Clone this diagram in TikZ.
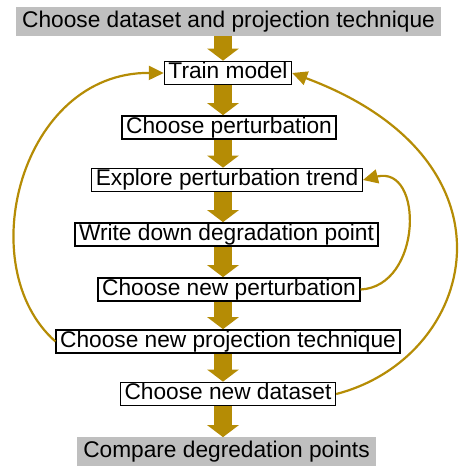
\documentclass[tikz,border=0pt]{standalone}
\usepackage{fontspec}
\setmainfont{Liberation Sans}
\usetikzlibrary{arrows.meta}
\definecolor{gold}{RGB}{181,140,5}
\definecolor{shade}{RGB}{191,191,191}

\begin{document}
\begin{tikzpicture}[x=1pt, y=-1pt,
    every node/.style={font=\fontsize{22.7}{27}\selectfont, text height=16.5pt, text depth=4.8pt},
    stage/.style={draw, line width=1.4pt, inner xsep=4pt, inner ysep=1pt},
    terminal/.style={fill=shade, inner xsep=6pt, inner ysep=3.5pt},
    advance/.style={draw=gold, line width=18pt, -{Triangle[length=12pt, width=31pt]}},
    revisit/.style={draw=gold, line width=2.2pt, -{Triangle[length=15pt, width=14pt]}}]
  \useasboundingbox (0,0) rectangle (458,466);

  \node[terminal] (start) at (228.5,21.5) {Choose dataset and projection technique};
  \node[stage] (train) at (228,73) {Train model};
  \node[stage] (pert) at (229,127.5) {Choose perturbation};
  \node[stage] (explore) at (227,180) {Explore perturbation trend};
  \node[stage] (write) at (226.5,234.5) {Write down degradation point};
  \node[stage] (newpert) at (229,289.5) {Choose new perturbation};
  \node[stage] (newproj) at (228,341.5) {Choose new projection technique};
  \node[stage] (newdata) at (228,394) {Choose new dataset};
  \node[terminal] (compare) at (226.5,451.5) {Compare degredation points};

  % main flow, kept vertical at x = 223
  \coordinate (axis) at (223,0);
  \draw[advance] (axis |- start.south) -- (axis |- train.north);
  \draw[advance] (axis |- train.south) -- (axis |- pert.north);
  \draw[advance] (axis |- pert.south) -- (axis |- explore.north);
  \draw[advance] (axis |- explore.south) -- (axis |- write.north);
  \draw[advance] (axis |- write.south) -- (axis |- newpert.north);
  \draw[advance] (axis |- newpert.south) -- (axis |- newproj.north);
  \draw[advance] (axis |- newproj.south) -- (axis |- newdata.north);
  \draw[advance] (axis |- newdata.south) -- (axis |- compare.north);

  % loops back
  \draw[revisit] (newpert.east) .. controls +(62,-3) and +(61,-15) .. (explore.east);
  \draw[revisit] (newproj.west) .. controls +(-85,-75) and +(-143,-1) .. (train.west);
  \draw[revisit] (newdata.east) .. controls +(140,-36) and +(236,88) .. (train.east);
\end{tikzpicture}
\end{document}
